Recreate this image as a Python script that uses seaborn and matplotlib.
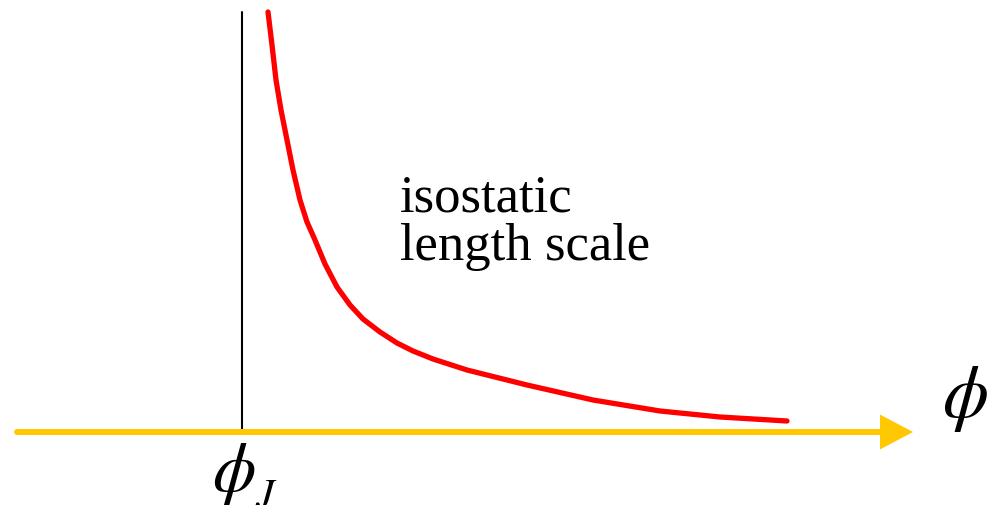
import matplotlib
matplotlib.use("Agg")
import matplotlib.pyplot as plt
import seaborn as sns
import pandas as pd

sns.set_style("white")
plt.rcParams["font.family"] = ["Liberation Serif", "DejaVu Serif"]
plt.rcParams["mathtext.fontset"] = "stix"

# Schematic: isostatic length scale diverging as phi -> phi_J from above
phi = [268, 272, 276, 281, 287, 293, 300, 307, 315, 325, 337, 350, 363, 380,
       397, 413, 433, 467, 527, 593, 660, 720, 787]
length = [420, 387, 352, 322, 292, 262, 232, 210, 192, 168, 145, 127, 113, 100,
          89, 81, 73, 62, 47, 32, 21, 15, 11]
phi_J = 242
axis_start, axis_end = 17, 913
wall_top = 420

df = pd.DataFrame({"phi": phi, "length": length})

fig = plt.figure(figsize=(9.9, 5.05), dpi=100)
ax = fig.add_axes([0, 0, 1, 1])
ax.set_xlim(0, 990)
ax.set_ylim(-73, 432)
ax.axis("off")

# phi axis arrow
ax.annotate("", xy=(axis_end, 0), xytext=(axis_start, 0),
            arrowprops=dict(arrowstyle="-|>,head_length=17,head_width=9",
                            mutation_scale=1, lw=4.3, color="#FFC800",
                            joinstyle="miter", shrinkA=0, shrinkB=0))

# jamming point marker
ax.plot([phi_J, phi_J], [0, wall_top], color="black", lw=1.5)

sns.lineplot(data=df, x="phi", y="length", ax=ax, color="#FF0000", lw=3.8,
             sort=False, estimator=None)

ax.text(400, 220, "isostatic", fontsize=38, va="baseline", ha="left", color="black")
ax.text(400, 172, "length scale", fontsize=38, va="baseline", ha="left", color="black")
ax.text(965, 33, r"$\phi$", fontsize=53, va="center", ha="center", color="black")
ax.text(234, -42, r"$\phi$", fontsize=50, va="center", ha="center", color="black")
ax.text(255, -46, r"$J$", fontsize=30, va="top", ha="left", color="black")

fig.savefig("out.png", dpi=100)
